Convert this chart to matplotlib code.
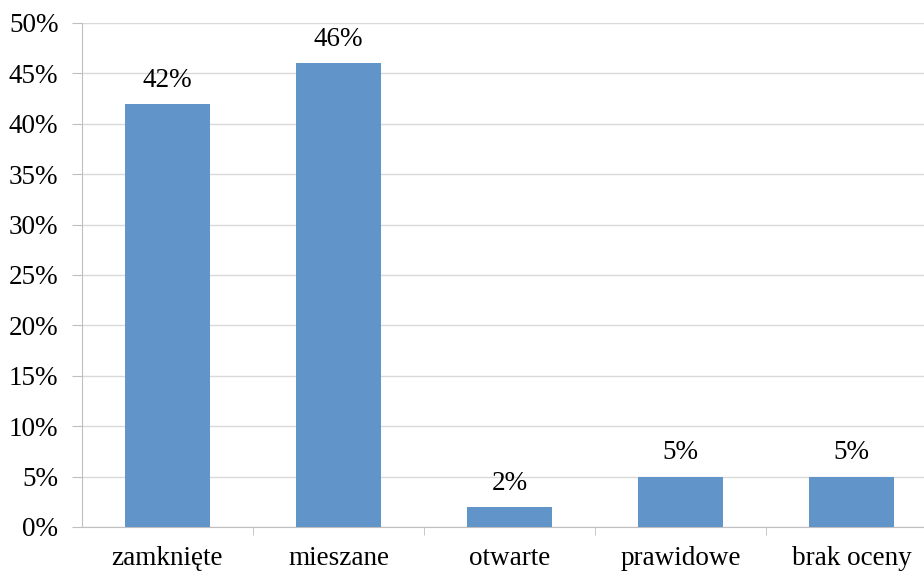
import matplotlib.pyplot as plt
import numpy as np

categories = ['zamknięte', 'mieszane', 'otwarte', 'prawidowe', 'brak oceny']
values = [42, 46, 2, 5, 5]

plt.rcParams['font.family'] = ['Liberation Serif', 'DejaVu Serif']
fs = 19.5

fig = plt.figure(figsize=(9.24, 5.77), dpi=100)
ax = fig.add_axes([82 / 924, 50 / 577, 855 / 924, 504 / 577])

x = np.arange(len(categories))
bars = ax.bar(x, values, width=0.5, color='#6194C8', zorder=3)

for xi, v in zip(x, values):
    ax.annotate('%d%%' % v, (xi, v), xytext=(0, 8), textcoords='offset points',
                ha='center', va='bottom', fontsize=fs)

ax.set_xlim(-0.5, len(categories) - 0.5)
ax.set_ylim(0, 50)
ax.set_yticks(np.arange(0, 51, 5))
ax.set_yticklabels(['%d%%' % t for t in range(0, 51, 5)], fontsize=fs)
ax.yaxis.grid(True, color='#D9D9D9', linewidth=1, zorder=0)

ax.set_xticks(x)
ax.set_xticklabels(categories, fontsize=fs)
ax.set_xticks(np.arange(0.5, len(categories) - 0.5, 1), minor=True)
ax.tick_params(axis='x', which='major', length=0, pad=14)
ax.tick_params(axis='x', which='minor', length=6, color='#BFBFBF', direction='out')
ax.tick_params(axis='y', length=7, color='#BFBFBF', pad=10)

for side in ['top', 'right']:
    ax.spines[side].set_visible(False)
for side in ['left', 'bottom']:
    ax.spines[side].set_color('#BFBFBF')

fig.savefig('out.png', dpi=100)
